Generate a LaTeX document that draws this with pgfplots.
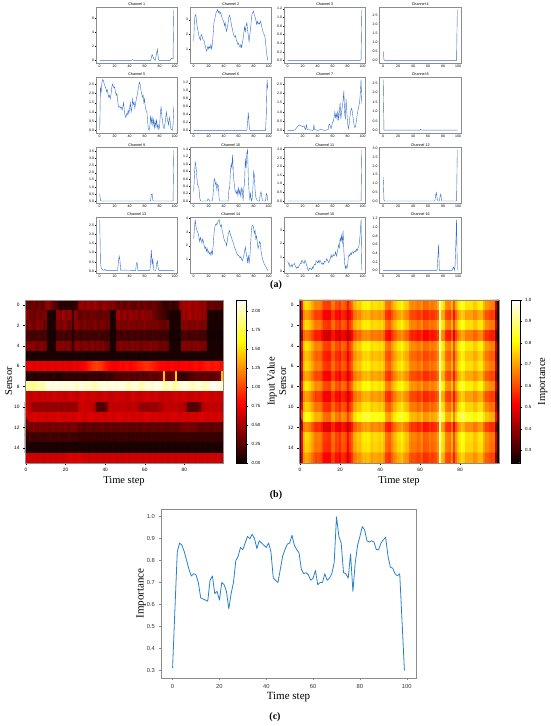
\documentclass[border=0pt]{standalone}
\usepackage{fontspec}
\setmainfont{Liberation Serif}
\setsansfont{Liberation Sans}
\usepackage{pgfplots}
\usepackage{pgfplotstable}
\pgfplotsset{compat=1.18}
\definecolor{chblue}{RGB}{50,110,205}
\definecolor{cblue}{RGB}{40,128,205}
\definecolor{frame}{RGB}{140,140,140}

% Input values (x100), 16 sensors x 100 time steps, row by row
\pgfplotstableread[row sep=\\]{v\\
30\\32\\25\\30\\35\\28\\30\\33\\26\\30\\40\\45\\38\\30\\28\\25\\22\\10\\8\\12\\10\\9\\11\\8\\10\\12\\15\\40\\42\\45\\38\\44\\46\\40\\42\\48\\44\\40\\38\\42\\45\\40\\38\\36\\40\\32\\30\\28\\34\\30\\28\\32\\35\\30\\28\\26\\30\\32\\28\\30\\33\\30\\28\\26\\30\\32\\28\\25\\22\\20\\15\\12\\14\\18\\15\\12\\16\\18\\42\\46\\50\\45\\48\\52\\44\\46\\50\\48\\45\\42\\46\\40\\30\\28\\32\\30\\26\\28\\30\\25\\
45\\40\\30\\35\\28\\32\\38\\30\\34\\36\\36\\5\\4\\6\\5\\4\\40\\45\\35\\50\\42\\38\\46\\40\\10\\42\\36\\30\\28\\32\\34\\30\\28\\35\\30\\32\\28\\30\\26\\32\\30\\28\\30\\5\\4\\6\\45\\50\\38\\42\\48\\35\\40\\46\\38\\42\\44\\36\\40\\45\\38\\42\\36\\40\\35\\30\\28\\25\\22\\20\\18\\15\\12\\5\\4\\6\\5\\4\\5\\45\\50\\40\\48\\52\\42\\46\\50\\44\\48\\40\\46\\42\\5\\4\\6\\5\\4\\5\\6\\5\\
38\\32\\40\\35\\30\\36\\42\\34\\38\\30\\32\\5\\4\\6\\5\\6\\35\\40\\32\\38\\42\\36\\30\\34\\10\\38\\40\\36\\32\\34\\38\\30\\36\\32\\35\\38\\34\\30\\36\\32\\34\\30\\32\\5\\4\\6\\36\\40\\34\\38\\32\\36\\40\\34\\38\\36\\32\\38\\34\\36\\40\\32\\36\\34\\38\\32\\36\\34\\30\\32\\28\\30\\34\\5\\4\\5\\6\\4\\5\\40\\36\\42\\38\\34\\40\\36\\38\\42\\36\\34\\38\\36\\5\\4\\6\\5\\4\\5\\6\\5\\
20\\18\\22\\16\\20\\18\\22\\20\\16\\18\\20\\4\\3\\5\\4\\3\\18\\20\\16\\22\\18\\15\\20\\18\\8\\16\\20\\18\\15\\18\\20\\16\\18\\20\\15\\18\\16\\20\\18\\15\\18\\16\\15\\3\\4\\3\\18\\20\\16\\18\\22\\18\\16\\20\\18\\15\\18\\20\\16\\18\\20\\16\\18\\15\\20\\18\\16\\18\\15\\18\\16\\14\\15\\4\\3\\4\\3\\4\\3\\20\\18\\22\\18\\16\\20\\18\\22\\18\\16\\20\\18\\16\\4\\3\\4\\3\\4\\3\\4\\3\\
36\\40\\34\\38\\42\\36\\32\\38\\40\\34\\36\\5\\4\\6\\5\\6\\38\\42\\36\\40\\34\\38\\40\\32\\12\\36\\40\\38\\34\\36\\40\\38\\34\\36\\40\\32\\38\\36\\34\\38\\32\\30\\28\\4\\5\\4\\34\\38\\40\\36\\32\\38\\34\\36\\40\\34\\38\\36\\32\\36\\38\\34\\36\\40\\32\\36\\38\\34\\32\\30\\34\\32\\30\\5\\4\\5\\4\\5\\4\\38\\42\\36\\40\\38\\34\\40\\36\\42\\38\\34\\36\\34\\5\\4\\5\\4\\5\\4\\5\\4\\
5\\4\\6\\5\\4\\5\\6\\4\\5\\5\\5\\4\\6\\5\\4\\5\\6\\4\\5\\5\\5\\4\\6\\5\\4\\5\\6\\4\\5\\5\\5\\4\\6\\5\\4\\5\\6\\4\\5\\5\\5\\4\\6\\5\\4\\5\\6\\4\\5\\5\\5\\4\\6\\5\\4\\5\\6\\4\\5\\5\\5\\4\\6\\5\\4\\5\\6\\4\\5\\5\\5\\4\\6\\5\\4\\5\\6\\4\\5\\5\\5\\4\\6\\5\\4\\5\\6\\4\\5\\5\\5\\4\\6\\5\\4\\5\\6\\4\\5\\5\\
70\\68\\72\\70\\68\\70\\72\\68\\70\\72\\70\\68\\70\\72\\70\\68\\70\\72\\70\\68\\72\\70\\68\\70\\72\\74\\70\\72\\74\\76\\78\\82\\86\\90\\94\\96\\98\\96\\94\\90\\86\\82\\80\\78\\76\\74\\76\\78\\80\\78\\80\\82\\80\\78\\80\\82\\84\\86\\88\\90\\92\\94\\92\\90\\88\\86\\84\\82\\80\\78\\80\\78\\76\\78\\80\\78\\76\\74\\76\\78\\78\\80\\78\\76\\78\\80\\82\\80\\78\\80\\82\\84\\86\\84\\82\\84\\86\\84\\82\\80\\
10\\8\\12\\10\\8\\6\\10\\12\\8\\10\\12\\10\\8\\10\\12\\10\\8\\6\\8\\10\\12\\14\\12\\10\\12\\14\\10\\12\\14\\12\\10\\12\\14\\16\\12\\14\\16\\12\\10\\14\\16\\18\\14\\16\\18\\20\\22\\24\\20\\26\\22\\24\\28\\22\\24\\26\\20\\24\\28\\22\\26\\24\\28\\30\\26\\28\\24\\26\\30\\34\\140\\34\\30\\28\\32\\36\\145\\20\\15\\12\\14\\16\\18\\20\\22\\24\\26\\28\\24\\26\\28\\30\\26\\28\\24\\26\\30\\32\\34\\140\\
190\\192\\195\\190\\188\\192\\195\\198\\196\\194\\205\\208\\210\\206\\204\\208\\210\\207\\205\\208\\206\\204\\208\\210\\206\\204\\200\\205\\208\\206\\204\\200\\205\\202\\198\\196\\200\\204\\206\\208\\210\\206\\204\\208\\210\\206\\204\\208\\210\\206\\204\\200\\198\\202\\206\\208\\204\\200\\196\\198\\202\\206\\208\\204\\200\\206\\208\\210\\206\\204\\200\\196\\198\\204\\200\\192\\196\\200\\204\\206\\208\\210\\206\\202\\198\\200\\204\\208\\206\\202\\196\\200\\204\\208\\210\\214\\210\\208\\206\\204\\
60\\62\\58\\60\\62\\64\\60\\58\\62\\60\\61\\63\\59\\60\\62\\64\\61\\59\\62\\60\\58\\60\\62\\64\\62\\60\\58\\62\\64\\66\\64\\62\\60\\62\\64\\62\\60\\58\\60\\62\\64\\62\\60\\58\\60\\62\\64\\62\\60\\62\\60\\58\\60\\62\\64\\62\\60\\58\\60\\62\\64\\66\\64\\62\\60\\62\\64\\62\\60\\58\\60\\62\\60\\58\\60\\62\\64\\62\\60\\62\\64\\62\\60\\58\\60\\62\\64\\62\\60\\62\\64\\66\\64\\62\\60\\62\\64\\62\\60\\62\\
62\\60\\58\\44\\46\\42\\45\\44\\43\\46\\44\\42\\45\\44\\46\\43\\44\\45\\42\\44\\46\\44\\43\\45\\44\\46\\44\\60\\62\\64\\60\\58\\62\\60\\56\\50\\25\\22\\24\\20\\26\\35\\55\\58\\56\\60\\58\\55\\57\\60\\58\\56\\55\\58\\60\\56\\54\\52\\45\\44\\46\\42\\44\\46\\48\\44\\45\\46\\50\\52\\55\\58\\60\\58\\56\\60\\58\\56\\54\\56\\52\\48\\25\\22\\20\\24\\22\\26\\30\\50\\55\\58\\56\\60\\58\\56\\58\\60\\58\\56\\
64\\66\\62\\64\\66\\68\\64\\62\\66\\64\\62\\64\\66\\64\\62\\64\\66\\68\\66\\64\\62\\64\\66\\64\\62\\64\\66\\68\\66\\64\\62\\64\\66\\68\\66\\64\\62\\64\\66\\64\\62\\64\\66\\64\\62\\64\\66\\68\\66\\64\\62\\64\\66\\64\\62\\64\\66\\64\\62\\64\\66\\68\\66\\64\\62\\64\\66\\64\\62\\64\\66\\64\\62\\64\\66\\68\\66\\64\\62\\64\\66\\64\\62\\64\\66\\64\\62\\64\\66\\68\\66\\64\\62\\64\\66\\64\\62\\64\\66\\64\\
34\\36\\32\\35\\38\\34\\32\\36\\34\\33\\36\\34\\32\\35\\37\\34\\32\\36\\35\\33\\36\\34\\32\\35\\34\\36\\33\\26\\28\\25\\27\\29\\26\\28\\25\\27\\29\\26\\28\\30\\27\\25\\28\\30\\26\\28\\25\\27\\29\\26\\28\\30\\27\\25\\28\\26\\29\\27\\25\\28\\30\\27\\25\\28\\26\\29\\27\\25\\28\\30\\27\\25\\28\\26\\29\\27\\25\\28\\30\\32\\34\\32\\35\\33\\31\\34\\32\\30\\27\\25\\28\\26\\29\\27\\25\\28\\26\\29\\27\\25\\
18\\16\\20\\17\\15\\18\\16\\19\\17\\15\\18\\16\\20\\17\\15\\18\\16\\19\\17\\15\\18\\16\\20\\17\\15\\18\\16\\14\\15\\13\\14\\16\\13\\15\\14\\16\\13\\15\\14\\16\\13\\15\\14\\16\\13\\15\\14\\16\\13\\15\\14\\16\\13\\15\\14\\16\\13\\15\\14\\16\\13\\15\\14\\16\\13\\15\\14\\16\\13\\15\\14\\16\\13\\15\\14\\16\\13\\15\\14\\16\\13\\15\\14\\16\\13\\15\\14\\16\\13\\15\\14\\16\\13\\15\\14\\16\\13\\15\\14\\16\\
5\\6\\4\\5\\6\\5\\4\\6\\5\\5\\5\\6\\4\\5\\6\\5\\4\\6\\5\\5\\5\\6\\4\\5\\6\\5\\4\\6\\5\\5\\5\\6\\4\\5\\6\\5\\4\\6\\5\\5\\5\\6\\4\\5\\6\\5\\4\\6\\5\\5\\5\\6\\4\\5\\6\\5\\4\\6\\5\\5\\5\\6\\4\\5\\6\\5\\4\\6\\5\\5\\5\\6\\4\\5\\6\\5\\4\\6\\5\\5\\5\\6\\4\\5\\6\\5\\4\\6\\5\\5\\5\\6\\4\\5\\6\\5\\4\\6\\5\\5\\
62\\64\\60\\62\\64\\62\\60\\64\\62\\60\\62\\64\\60\\62\\64\\62\\60\\64\\62\\60\\62\\64\\66\\68\\66\\64\\66\\68\\66\\64\\62\\64\\60\\62\\64\\62\\60\\64\\62\\60\\62\\64\\60\\62\\64\\62\\60\\64\\62\\60\\62\\64\\60\\62\\64\\62\\60\\64\\62\\60\\62\\64\\60\\62\\64\\62\\60\\64\\62\\60\\62\\64\\60\\62\\64\\62\\60\\64\\62\\60\\62\\64\\60\\62\\64\\62\\60\\64\\62\\60\\62\\64\\60\\62\\64\\62\\60\\64\\62\\60\\
}\heatA

% Importance (x100), 16 sensors x 100 time steps, row by row
\pgfplotstableread[row sep=\\]{v\\
27\\54\\75\\78\\77\\75\\72\\69\\66\\67\\67\\64\\59\\59\\58\\58\\65\\66\\60\\61\\58\\64\\63\\61\\54\\60\\64\\72\\73\\76\\75\\78\\80\\79\\81\\79\\76\\78\\78\\77\\76\\78\\75\\66\\65\\64\\69\\73\\75\\78\\78\\81\\77\\75\\75\\69\\67\\68\\67\\65\\66\\69\\63\\64\\64\\67\\65\\66\\67\\71\\96\\80\\78\\68\\67\\66\\74\\61\\71\\77\\80\\84\\82\\78\\78\\78\\78\\75\\75\\78\\79\\80\\73\\69\\69\\67\\66\\67\\48\\26\\
24\\46\\67\\70\\69\\67\\64\\61\\58\\59\\59\\56\\51\\51\\50\\50\\57\\58\\52\\53\\50\\56\\55\\53\\46\\52\\56\\64\\65\\68\\67\\70\\72\\71\\73\\71\\68\\70\\70\\69\\68\\70\\67\\58\\57\\56\\61\\65\\67\\70\\70\\73\\69\\67\\67\\61\\59\\60\\59\\57\\58\\61\\55\\56\\56\\59\\57\\58\\59\\63\\93\\72\\70\\60\\59\\58\\66\\53\\63\\69\\72\\76\\74\\70\\70\\70\\70\\67\\67\\70\\71\\72\\65\\61\\61\\59\\58\\59\\40\\24\\
26\\53\\74\\77\\76\\74\\71\\68\\65\\66\\66\\63\\58\\58\\57\\57\\64\\65\\59\\60\\57\\63\\62\\60\\53\\59\\63\\71\\72\\75\\74\\77\\79\\78\\80\\78\\75\\77\\77\\76\\75\\77\\74\\65\\64\\63\\68\\72\\74\\77\\77\\80\\76\\74\\74\\68\\66\\67\\66\\64\\65\\68\\62\\63\\63\\66\\64\\65\\66\\70\\96\\79\\77\\67\\66\\65\\73\\60\\70\\76\\79\\83\\81\\77\\77\\77\\77\\74\\74\\77\\78\\79\\72\\68\\68\\66\\65\\66\\47\\25\\
24\\42\\63\\66\\65\\63\\60\\57\\54\\55\\55\\52\\47\\47\\46\\46\\53\\54\\48\\49\\46\\52\\51\\49\\42\\48\\52\\60\\61\\64\\63\\66\\68\\67\\69\\67\\64\\66\\66\\65\\64\\66\\63\\54\\53\\52\\57\\61\\63\\66\\66\\69\\65\\63\\63\\57\\55\\56\\55\\53\\54\\57\\51\\52\\52\\55\\53\\54\\55\\59\\92\\68\\66\\56\\55\\54\\62\\49\\59\\65\\68\\72\\70\\66\\66\\66\\66\\63\\63\\66\\67\\68\\61\\57\\57\\55\\54\\55\\36\\24\\
27\\54\\75\\78\\77\\75\\72\\69\\66\\67\\67\\64\\59\\59\\58\\58\\65\\66\\60\\61\\58\\64\\63\\61\\54\\60\\64\\72\\73\\76\\75\\78\\80\\79\\81\\79\\76\\78\\78\\77\\76\\78\\75\\66\\65\\64\\69\\73\\75\\78\\78\\81\\77\\75\\75\\69\\67\\68\\67\\65\\66\\69\\63\\64\\64\\67\\65\\66\\67\\71\\96\\80\\78\\68\\67\\66\\74\\61\\71\\77\\80\\84\\82\\78\\78\\78\\78\\75\\75\\78\\79\\80\\73\\69\\69\\67\\66\\67\\48\\26\\
24\\50\\71\\74\\73\\71\\68\\65\\62\\63\\63\\60\\55\\55\\54\\54\\61\\62\\56\\57\\54\\60\\59\\57\\50\\56\\60\\68\\69\\72\\71\\74\\76\\75\\77\\75\\72\\74\\74\\73\\72\\74\\71\\62\\61\\60\\65\\69\\71\\74\\74\\77\\73\\71\\71\\65\\63\\64\\63\\61\\62\\65\\59\\60\\60\\63\\61\\62\\63\\67\\94\\76\\74\\64\\63\\62\\70\\57\\67\\73\\76\\80\\78\\74\\74\\74\\74\\71\\71\\74\\75\\76\\69\\65\\65\\63\\62\\63\\44\\24\\
26\\53\\74\\77\\76\\74\\71\\68\\65\\66\\66\\63\\58\\58\\57\\57\\64\\65\\59\\60\\57\\63\\62\\60\\53\\59\\63\\71\\72\\75\\74\\77\\79\\78\\80\\78\\75\\77\\77\\76\\75\\77\\74\\65\\64\\63\\68\\72\\74\\77\\77\\80\\76\\74\\74\\68\\66\\67\\66\\64\\65\\68\\62\\63\\63\\66\\64\\65\\66\\70\\96\\79\\77\\67\\66\\65\\73\\60\\70\\76\\79\\83\\81\\77\\77\\77\\77\\74\\74\\77\\78\\79\\72\\68\\68\\66\\65\\66\\47\\25\\
24\\47\\68\\71\\70\\68\\65\\62\\59\\60\\60\\57\\52\\52\\51\\51\\58\\59\\53\\54\\51\\57\\56\\54\\47\\53\\57\\65\\66\\69\\68\\71\\73\\72\\74\\72\\69\\71\\71\\70\\69\\71\\68\\59\\58\\57\\62\\66\\68\\71\\71\\74\\70\\68\\68\\62\\60\\61\\60\\58\\59\\62\\56\\57\\57\\60\\58\\59\\60\\64\\93\\73\\71\\61\\60\\59\\67\\54\\64\\70\\73\\77\\75\\71\\71\\71\\71\\68\\68\\71\\72\\73\\66\\62\\62\\60\\59\\60\\41\\24\\
28\\55\\76\\79\\78\\76\\73\\70\\67\\68\\68\\65\\60\\60\\59\\59\\66\\67\\61\\62\\59\\65\\64\\62\\55\\61\\65\\73\\74\\77\\76\\79\\81\\80\\82\\80\\77\\79\\79\\78\\77\\79\\76\\67\\66\\65\\70\\74\\76\\79\\79\\82\\78\\76\\76\\70\\68\\69\\68\\66\\67\\70\\64\\65\\65\\68\\66\\67\\68\\72\\97\\81\\79\\69\\68\\67\\75\\62\\72\\78\\81\\85\\83\\79\\79\\79\\79\\76\\76\\79\\80\\81\\74\\70\\70\\68\\67\\68\\49\\27\\
24\\46\\67\\70\\69\\67\\64\\61\\58\\59\\59\\56\\51\\51\\50\\50\\57\\58\\52\\53\\50\\56\\55\\53\\46\\52\\56\\64\\65\\68\\67\\70\\72\\71\\73\\71\\68\\70\\70\\69\\68\\70\\67\\58\\57\\56\\61\\65\\67\\70\\70\\73\\69\\67\\67\\61\\59\\60\\59\\57\\58\\61\\55\\56\\56\\59\\57\\58\\59\\63\\93\\72\\70\\60\\59\\58\\66\\53\\63\\69\\72\\76\\74\\70\\70\\70\\70\\67\\67\\70\\71\\72\\65\\61\\61\\59\\58\\59\\40\\24\\
25\\52\\73\\76\\75\\73\\70\\67\\64\\65\\65\\62\\57\\57\\56\\56\\63\\64\\58\\59\\56\\62\\61\\59\\52\\58\\62\\70\\71\\74\\73\\76\\78\\77\\79\\77\\74\\76\\76\\75\\74\\76\\73\\64\\63\\62\\67\\71\\73\\76\\76\\79\\75\\73\\73\\67\\65\\66\\65\\63\\64\\67\\61\\62\\62\\65\\63\\64\\65\\69\\95\\78\\76\\66\\65\\64\\72\\59\\69\\75\\78\\82\\80\\76\\76\\76\\76\\73\\73\\76\\77\\78\\71\\67\\67\\65\\64\\65\\46\\24\\
32\\59\\80\\83\\82\\80\\77\\74\\71\\72\\72\\69\\64\\64\\63\\63\\70\\71\\65\\66\\63\\69\\68\\66\\59\\65\\69\\77\\78\\81\\80\\83\\85\\84\\86\\84\\81\\83\\83\\82\\81\\83\\80\\71\\70\\69\\74\\78\\80\\83\\83\\86\\82\\80\\80\\74\\72\\73\\72\\70\\71\\74\\68\\69\\69\\72\\70\\71\\72\\76\\99\\85\\83\\73\\72\\71\\79\\66\\76\\82\\85\\89\\87\\83\\83\\83\\83\\80\\80\\83\\84\\85\\78\\74\\74\\72\\71\\72\\53\\31\\
24\\44\\65\\68\\67\\65\\62\\59\\56\\57\\57\\54\\49\\49\\48\\48\\55\\56\\50\\51\\48\\54\\53\\51\\44\\50\\54\\62\\63\\66\\65\\68\\70\\69\\71\\69\\66\\68\\68\\67\\66\\68\\65\\56\\55\\54\\59\\63\\65\\68\\68\\71\\67\\65\\65\\59\\57\\58\\57\\55\\56\\59\\53\\54\\54\\57\\55\\56\\57\\61\\92\\70\\68\\58\\57\\56\\64\\51\\61\\67\\70\\74\\72\\68\\68\\68\\68\\65\\65\\68\\69\\70\\63\\59\\59\\57\\56\\57\\38\\24\\
26\\53\\74\\77\\76\\74\\71\\68\\65\\66\\66\\63\\58\\58\\57\\57\\64\\65\\59\\60\\57\\63\\62\\60\\53\\59\\63\\71\\72\\75\\74\\77\\79\\78\\80\\78\\75\\77\\77\\76\\75\\77\\74\\65\\64\\63\\68\\72\\74\\77\\77\\80\\76\\74\\74\\68\\66\\67\\66\\64\\65\\68\\62\\63\\63\\66\\64\\65\\66\\70\\96\\79\\77\\67\\66\\65\\73\\60\\70\\76\\79\\83\\81\\77\\77\\77\\77\\74\\74\\77\\78\\79\\72\\68\\68\\66\\65\\66\\47\\25\\
25\\52\\73\\76\\75\\73\\70\\67\\64\\65\\65\\62\\57\\57\\56\\56\\63\\64\\58\\59\\56\\62\\61\\59\\52\\58\\62\\70\\71\\74\\73\\76\\78\\77\\79\\77\\74\\76\\76\\75\\74\\76\\73\\64\\63\\62\\67\\71\\73\\76\\76\\79\\75\\73\\73\\67\\65\\66\\65\\63\\64\\67\\61\\62\\62\\65\\63\\64\\65\\69\\95\\78\\76\\66\\65\\64\\72\\59\\69\\75\\78\\82\\80\\76\\76\\76\\76\\73\\73\\76\\77\\78\\71\\67\\67\\65\\64\\65\\46\\24\\
24\\47\\68\\71\\70\\68\\65\\62\\59\\60\\60\\57\\52\\52\\51\\51\\58\\59\\53\\54\\51\\57\\56\\54\\47\\53\\57\\65\\66\\69\\68\\71\\73\\72\\74\\72\\69\\71\\71\\70\\69\\71\\68\\59\\58\\57\\62\\66\\68\\71\\71\\74\\70\\68\\68\\62\\60\\61\\60\\58\\59\\62\\56\\57\\57\\60\\58\\59\\60\\64\\93\\73\\71\\61\\60\\59\\67\\54\\64\\70\\73\\77\\75\\71\\71\\71\\71\\68\\68\\71\\72\\73\\66\\62\\62\\60\\59\\60\\41\\24\\
}\heatB

\pgfplotsset{
  /pgf/number format/assume math mode=true,
  colormap={mplhot}{rgb(0pt)=(0.0416,0,0); rgb(365pt)=(1,0,0); rgb(746pt)=(1,1,0); rgb(1000pt)=(1,1,1)},
  ch/.style={scale only axis, width=81.5pt, height=56pt, anchor=north west,
    xmin=-4.95, xmax=103.95, xtick={0,20,40,60,80,100},
    tick pos=left, tick align=outside, major tick length=1pt,
    tick style={black, line width=0.25pt},
    tick label style={font=\sffamily\fontsize{3.5}{4}\selectfont, inner sep=0.8pt},
    every axis title/.style={at={(0.5,1)}, anchor=south, inner sep=1pt, font=\sffamily\fontsize{3.7}{4}\selectfont},
    axis line style={draw=frame, line width=0.8pt},
    scaled y ticks=false,
    cycle list={{chblue, mark=none, line width=0.75pt, line join=round}},
  },
  dec/.style={yticklabel style={/pgf/number format/.cd, fixed, fixed zerofill, precision=1}},
  hm/.style={scale only axis, height=163pt, anchor=south west, y dir=reverse, enlargelimits=false,
    xmin=-0.5, xmax=99.5, ymin=-0.5, ymax=15.5, xtick={0,20,40,60,80}, ytick={0,2,4,6,8,10,12,14},
    tick pos=left, tick align=outside, major tick length=2pt, tick style={black, line width=0.3pt},
    tick label style={font=\sffamily\fontsize{4.8}{5.5}\selectfont},
    axis line style={draw=frame, line width=0.4pt}, axis on top, colormap name=mplhot,
    xlabel={Time step}, ylabel={Sensor}, ylabel shift=-5pt, xlabel shift=-2pt,
    label style={font=\fontsize{10.5}{12}\selectfont},
    colorbar,
  },
}

\begin{document}
\begin{tikzpicture}
\path[use as bounding box] (0,0) rectangle (550pt,726pt);

% ---------------- (a) ----------------
\begin{axis}[ch, at={(96pt,719pt)}, title={Channel 1}, ymin=-0.36, ymax=7.56, ytick={0,2,4,6}]
\addplot coordinates {(0,0)(42,0)(43,0.05)(44,0.12)(45,0.05)(46,0)(68,0)(69,0.4)(70,0.85)(71,0.6)(72,0.3)(73,0.1)(74,0)(75,0.4)(76,1.0)(77,1.6)(78,0.6)(79,0)(94,0)(95,0.15)(96,0.3)(97,0.25)(98,0.2)(99,7.2)};
\end{axis}
\begin{axis}[ch, at={(190pt,719pt)}, title={Channel 2}, ymin=0.03, ymax=3.88, ytick={1,2,3}]
\addplot coordinates {(0,1.55)(1,3.0)(2,3.35)(3,3.3)(4,2.8)(5,2.4)(6,2.2)(7,1.9)(8,1.7)(9,1.6)(10,2.0)(11,1.9)(12,1.7)(13,1.6)(14,1.55)(15,1.3)(16,1.1)(17,0.85)(18,0.95)(19,1.2)(20,1.0)(21,1.15)(22,1.05)(23,1.3)(24,1.0)(25,1.4)(26,2.0)(27,2.8)(28,3.0)(29,3.3)(30,3.5)(31,3.6)(32,3.7)(33,3.5)(34,3.6)(35,3.4)(36,3.5)(37,3.3)(38,3.1)(39,3.0)(40,2.9)(41,2.6)(42,2.8)(43,2.4)(44,2.2)(45,2.5)(46,2.8)(47,3.2)(48,3.3)(49,3.1)(50,2.8)(51,2.5)(52,2.3)(53,2.0)(54,1.9)(55,1.8)(56,1.9)(57,1.6)(58,1.5)(59,1.3)(60,1.4)(61,1.2)(62,1.1)(63,1.3)(64,1.1)(65,1.4)(66,1.7)(67,2.1)(68,2.5)(69,2.2)(70,2.6)(71,2.8)(72,2.3)(73,1.9)(74,1.5)(75,2.0)(76,2.4)(77,3.0)(78,3.4)(79,3.5)(80,3.6)(81,3.3)(82,3.2)(83,3.0)(84,2.7)(85,2.9)(86,2.7)(87,2.8)(88,2.7)(89,2.9)(90,2.8)(91,2.5)(92,2.3)(93,2.1)(94,2.0)(95,1.9)(96,1.5)(97,0.9)(98,0.5)(99,0.2)};
\end{axis}
\begin{axis}[ch, dec, at={(284pt,719pt)}, title={Channel 3}, ymin=-0.059, ymax=1.239, ytick={0,0.2,0.4,0.6,0.8,1.0,1.2}]
\addplot coordinates {(0,0)(97,0)(98,0.02)(99,1.18)};
\end{axis}
\begin{axis}[ch, dec, at={(379.5pt,719pt)}, title={Channel 4}, ymin=-0.14, ymax=2.94, ytick={0,0.5,1,1.5,2,2.5}]
\addplot coordinates {(0,0.5)(1,0.05)(2,0)(98,0)(99,2.8)};
\end{axis}

\begin{axis}[ch, dec, at={(96pt,649pt)}, title={Channel 5}, ymin=-0.1375, ymax=2.8875, ytick={0,0.5,1,1.5,2,2.5}]
\addplot coordinates {(0,0.0)(1,2.3)(2,2.1)(3,2.6)(4,2.75)(5,2.7)(6,2.5)(7,2.4)(8,2.3)(9,2.1)(10,2.2)(11,2.0)(12,1.8)(13,1.9)(14,1.7)(15,1.9)(16,2.3)(17,2.5)(18,2.4)(19,2.3)(20,2.35)(21,2.1)(22,1.9)(23,2.0)(24,1.6)(25,1.3)(26,1.25)(27,1.3)(28,1.2)(29,1.25)(30,1.1)(31,1.3)(32,1.5)(33,1.0)(34,0.8)(35,0.7)(36,0.9)(37,0.85)(38,1.1)(39,0.9)(40,1.2)(41,1.5)(42,1.0)(43,1.2)(44,1.7)(45,1.4)(46,1.5)(47,1.2)(48,1.5)(49,1.7)(50,1.9)(51,2.1)(52,2.4)(53,2.6)(54,2.5)(55,2.2)(56,2.0)(57,1.8)(58,1.9)(59,1.5)(60,1.7)(61,1.2)(62,1.1)(63,1.0)(64,0.5)(65,0.1)(66,0.0)(67,0.2)(68,0.8)(69,0.4)(70,0.7)(71,0.3)(72,0.6)(73,0.1)(74,0.5)(75,0.2)(76,0.6)(77,0.15)(78,0.3)(79,0.05)(80,0.2)(81,0.9)(82,1.3)(83,0.8)(84,0.5)(85,0.2)(86,0.1)(87,0.3)(88,0.6)(89,1.0)(90,0.7)(91,0.5)(92,0.3)(93,0.7)(94,0.5)(95,0.1)(96,0.05)(97,0.0)(98,0.3)(99,1.3)};
\end{axis}
\begin{axis}[ch, dec, at={(190pt,649pt)}, title={Channel 6}, ymin=-0.064, ymax=1.344, ytick={0,0.2,0.4,0.6,0.8,1.0,1.2}]
\addplot coordinates {(0,0)(71,0)(72,0.2)(73,0.45)(74,0.15)(75,0)(96,0)(97,0.4)(98,1.28)(99,1.05)};
\end{axis}
\begin{axis}[ch, dec, at={(284pt,649pt)}, title={Channel 7}, ymin=-0.1375, ymax=2.8875, ytick={0,0.5,1,1.5,2,2.5}]
\addplot coordinates {(0,0)(8,0)(10,0.05)(12,0.15)(14,0.25)(16,0.3)(18,0.25)(20,0.2)(22,0.25)(23,0.1)(24,0.05)(25,0.3)(26,0.05)(34,0.0)(35,0.3)(36,0.05)(40,0.0)(44,0.05)(50,0.0)(54,0.05)(55,0.3)(56,0.35)(57,0.2)(58,0.1)(59,0.3)(60,0.45)(61,0.5)(62,0.7)(63,1.0)(64,0.7)(65,0.9)(66,0.6)(67,1.1)(68,0.55)(69,1.0)(70,1.5)(71,0.6)(72,1.0)(73,1.3)(74,1.6)(75,2.15)(76,1.0)(77,0.6)(78,1.7)(79,1.0)(80,0.4)(81,0.1)(82,0.3)(83,0.7)(84,1.0)(85,1.2)(86,1.1)(87,0.8)(88,0.5)(89,0.2)(90,0.15)(91,0.3)(92,0.6)(93,0.9)(94,1.1)(95,1.3)(96,1.5)(97,2.0)(98,2.75)(99,1.45)};
\end{axis}
\begin{axis}[ch, dec, at={(379.5pt,649pt)}, title={Channel 8}, ymin=-0.135, ymax=2.835, ytick={0,0.5,1,1.5,2,2.5}]
\addplot coordinates {(0,2.7)(1,0.02)(49,0.02)(50,0.06)(51,0.02)(99,0.02)};
\end{axis}

\begin{axis}[ch, dec, at={(96pt,578.5pt)}, title={Channel 9}, ymin=-0.18, ymax=3.78, ytick={0,0.5,1,1.5,2,2.5,3,3.5}]
\addplot coordinates {(0,0.5)(1,0.05)(2,0)(68,0)(69,0.45)(70,0.5)(71,0.05)(72,0)(98,0)(99,3.6)};
\end{axis}
\begin{axis}[ch, dec, at={(190pt,578.5pt)}, title={Channel 10}, ymin=-0.069, ymax=1.449, ytick={0,0.2,0.4,0.6,0.8,1.0,1.2,1.4}]
\addplot coordinates {(0,0.25)(1,0.7)(2,1.05)(3,0.95)(4,0.7)(5,0.45)(6,0.4)(7,0.35)(8,0.1)(9,0.0)(18,0.0)(19,0.05)(20,0.05)(21,0.0)(25,0.0)(26,0.2)(27,0.55)(28,0.6)(29,0.45)(30,0.5)(31,0.3)(32,0.45)(33,0.4)(34,0.05)(35,0.0)(46,0.0)(47,0.3)(48,0.35)(49,0.8)(50,1.0)(51,0.9)(52,1.25)(53,0.7)(54,0.5)(55,0.3)(56,0.25)(57,0.2)(58,0.3)(59,0.15)(60,0.35)(61,0.2)(62,0.3)(63,0.1)(64,0.35)(65,0.3)(66,0.0)(67,0.35)(68,0.5)(69,1.15)(70,0.9)(71,1.3)(72,1.38)(73,0.6)(74,0.25)(75,0.05)(76,0.2)(77,0.0)(78,0.05)(79,0.3)(80,0.8)(81,0.7)(82,0.3)(83,0.1)(84,0.05)(85,0.0)(88,0.0)(89,0.2)(90,0.25)(91,0.1)(92,0.0)(96,0.0)(97,0.2)(98,0.15)(99,0.0)};
\end{axis}
\begin{axis}[ch, dec, at={(284pt,578.5pt)}, title={Channel 11}, ymin=-0.1475, ymax=3.0975, ytick={0,0.5,1,1.5,2,2.5,3}]
\addplot coordinates {(0,0)(98,0)(99,2.95)};
\end{axis}
\begin{axis}[ch, dec, at={(379.5pt,578.5pt)}, title={Channel 12}, ymin=-0.145, ymax=3.045, ytick={0,0.5,1,1.5,2,2.5,3}]
\addplot coordinates {(0,1.35)(1,0.05)(2,0)(69,0)(70,0.3)(71,0.48)(72,0.15)(73,0)(75,0)(76,0.25)(77,0.4)(78,0)(98,0)(99,2.9)};
\end{axis}

\begin{axis}[ch, dec, at={(96pt,509pt)}, title={Channel 13}, ymin=-0.11, ymax=2.94, ytick={0,0.5,1,1.5,2,2.5}]
\addplot coordinates {(0,2.8)(1,0.5)(2,0.15)(4,0.05)(6,0.05)(7,0.1)(8,0.03)(24,0.03)(25,0.5)(26,0.82)(27,0.6)(28,0.05)(48,0.03)(49,0.4)(50,0.46)(51,0.03)(67,0.03)(68,0.5)(69,1.15)(70,0.3)(71,0.7)(72,0.05)(75,0.03)(76,0.4)(77,0.55)(78,0.2)(79,0.03)(99,0.03)};
\end{axis}
\begin{axis}[ch, at={(190pt,509pt)}, title={Channel 14}, ymin=0.015, ymax=4.085, ytick={1,2,3,4}]
\addplot coordinates {(0,2.5)(1,3.3)(2,3.9)(3,3.4)(4,3.2)(5,3.0)(6,2.9)(7,2.6)(8,2.3)(9,2.6)(10,2.4)(11,2.2)(12,2.5)(13,2.3)(14,2.0)(15,1.8)(16,1.9)(17,1.6)(18,1.8)(19,1.5)(20,1.6)(21,1.4)(22,1.5)(23,1.3)(24,1.6)(25,1.4)(26,2.0)(27,2.8)(28,3.3)(29,3.5)(30,3.6)(31,3.5)(32,3.7)(33,3.8)(34,3.9)(35,3.6)(36,3.4)(37,3.5)(38,3.1)(39,2.9)(40,2.6)(41,2.4)(42,2.3)(43,2.2)(44,2.0)(45,2.4)(46,2.8)(47,3.0)(48,3.1)(49,2.8)(50,2.7)(51,2.5)(52,2.3)(53,2.2)(54,2.0)(55,1.8)(56,1.7)(57,1.5)(58,1.4)(59,1.3)(60,1.3)(61,1.2)(62,1.1)(63,1.2)(64,1.0)(65,0.9)(66,1.1)(67,1.3)(68,1.6)(69,1.9)(70,1.5)(71,1.2)(72,0.8)(73,1.3)(74,0.7)(75,1.2)(76,2.1)(77,3.0)(78,3.5)(79,3.5)(80,3.3)(81,2.9)(82,3.1)(83,2.5)(84,2.7)(85,2.2)(86,1.8)(87,2.0)(88,2.3)(89,2.2)(90,1.6)(91,1.3)(92,1.0)(93,0.9)(94,0.7)(95,0.6)(96,0.5)(97,0.4)(98,0.3)(99,0.2)};
\end{axis}
\begin{axis}[ch, at={(284pt,509pt)}, title={Channel 15}, ymin=-0.135, ymax=3.935, ytick={0,1,2,3}]
\addplot coordinates {(0,0.75)(1,0.5)(2,0.55)(3,0.3)(4,0.4)(5,0.45)(6,0.3)(7,0.5)(8,0.5)(9,0.55)(10,0.4)(11,0.3)(12,0.2)(13,0.3)(14,0.25)(15,0.35)(16,0.45)(17,0.6)(18,0.55)(19,0.8)(20,0.7)(21,0.6)(22,0.55)(23,0.8)(24,0.7)(25,0.5)(26,0.3)(27,0.1)(28,0.05)(29,0.2)(30,0.2)(31,0.15)(32,0.1)(33,0.3)(34,0.2)(35,0.4)(36,0.5)(37,0.45)(38,0.75)(39,0.7)(40,0.6)(41,0.75)(42,0.6)(43,0.8)(44,0.7)(45,0.55)(46,0.5)(47,0.6)(48,0.5)(49,0.7)(50,0.65)(51,0.7)(52,0.9)(53,0.8)(54,0.7)(55,0.6)(56,0.8)(57,0.9)(58,1.2)(59,1.0)(60,1.1)(61,1.2)(62,1.1)(63,1.2)(64,1.4)(65,1.1)(66,1.3)(67,1.6)(68,1.9)(69,1.7)(70,2.4)(71,2.2)(72,2.6)(73,2.0)(74,2.95)(75,1.5)(76,0.6)(77,0.2)(78,0.4)(79,0.2)(80,0.4)(81,1.0)(82,1.2)(83,1.1)(84,1.3)(85,1.2)(86,1.4)(87,1.4)(88,1.3)(89,1.4)(90,1.5)(91,1.4)(92,1.6)(93,1.5)(94,1.7)(95,1.8)(96,2.2)(97,2.8)(98,3.75)(99,0.05)};
\end{axis}
\begin{axis}[ch, dec, at={(379.5pt,509pt)}, title={Channel 16}, ymin=-0.059, ymax=1.239, ytick={0,0.2,0.4,0.6,0.8,1.0,1.2}]
\addplot coordinates {(0,0)(72,0)(73,0.3)(74,0.6)(75,0)(92,0)(93,0.05)(94,0.08)(95,0)(96,0.1)(97,0.6)(98,1.18)(99,0)};
\end{axis}

\node[font=\bfseries\fontsize{10}{12}\selectfont] at (276pt,441pt) {(a)};

% ---------------- (b) ----------------
\begin{axis}[hm, at={(25pt,263pt)}, width=198pt, point meta min=0, point meta max=214,
  colorbar shift/.style={xshift=13pt},
  colorbar style={width=10pt, y dir=normal, title={}, xlabel={},
    ytick={0,25,50,75,100,125,150,175,200},
    yticklabels={0.00,0.25,0.50,0.75,1.00,1.25,1.50,1.75,2.00},
    ytick pos=right, yticklabel pos=right, tick align=outside, major tick length=2pt,
    tick label style={font=\sffamily\fontsize{4.5}{5}\selectfont},
    axis line style={draw=black, line width=0.3pt},
    ylabel={Input Value}, ylabel shift=0pt, ylabel style={font=\fontsize{10.5}{12}\selectfont}}]
\addplot[matrix plot*, mesh/cols=100, point meta=explicit] table[x index=0, y index=0, x expr={mod(\coordindex,100)}, y expr={floor(\coordindex/100)}, meta=v] {\heatA};
\end{axis}

\begin{axis}[hm, at={(299pt,263pt)}, width=200pt, point meta min=24, point meta max=100,
  colorbar shift/.style={xshift=12pt},
  colorbar style={width=8.5pt, y dir=normal, title={}, xlabel={},
    ytick={30,40,50,60,70,80,90,100},
    yticklabels={0.3,0.4,0.5,0.6,0.7,0.8,0.9,1.0},
    ytick pos=right, yticklabel pos=right, tick align=outside, major tick length=2pt,
    tick label style={font=\sffamily\fontsize{4.5}{5}\selectfont},
    axis line style={draw=black, line width=0.3pt},
    ylabel={Importance}, ylabel shift=0pt, ylabel style={font=\fontsize{10.5}{12}\selectfont}}]
\addplot[matrix plot*, mesh/cols=100, point meta=explicit] table[x index=0, y index=0, x expr={mod(\coordindex,100)}, y expr={floor(\coordindex/100)}, meta=v] {\heatB};
\end{axis}

\node[font=\bfseries\fontsize{10}{12}\selectfont] at (276pt,231pt) {(b)};

% ---------------- (c) ----------------
\begin{axis}[scale only axis, at={(161pt,48pt)}, anchor=south west, width=255pt, height=169pt,
  xmin=-4.95, xmax=103.95, ymin=0.265, ymax=1.035,
  xtick={0,20,40,60,80,100}, ytick={0.3,0.4,0.5,0.6,0.7,0.8,0.9,1.0},
  yticklabel style={/pgf/number format/.cd, fixed, fixed zerofill, precision=1},
  tick pos=left, tick align=outside, major tick length=2.5pt, tick style={frame, line width=0.4pt},
  tick label style={font=\sffamily\fontsize{5.8}{6.5}\selectfont, text=black!80},
  axis line style={draw=frame, line width=0.8pt},
  xlabel={Time step}, ylabel={Importance}, ylabel shift=-6pt, xlabel shift=-3pt,
  label style={font=\fontsize{11}{13}\selectfont}]
\addplot[cblue, line width=0.8pt, line join=round] coordinates {(0,0.31)(1,0.58)(2,0.84)(3,0.88)(4,0.87)(5,0.84)(6,0.80)(7,0.76)(8,0.73)(9,0.74)(10,0.735)(11,0.70)(12,0.63)(13,0.625)(14,0.62)(15,0.615)(16,0.71)(17,0.73)(18,0.65)(19,0.66)(20,0.62)(21,0.70)(22,0.69)(23,0.66)(24,0.58)(25,0.65)(26,0.70)(27,0.80)(28,0.82)(29,0.86)(30,0.85)(31,0.88)(32,0.91)(33,0.90)(34,0.92)(35,0.90)(36,0.855)(37,0.89)(38,0.88)(39,0.87)(40,0.86)(41,0.88)(42,0.84)(43,0.72)(44,0.71)(45,0.70)(46,0.76)(47,0.82)(48,0.85)(49,0.875)(50,0.88)(51,0.915)(52,0.87)(53,0.85)(54,0.835)(55,0.76)(56,0.74)(57,0.745)(58,0.735)(59,0.71)(60,0.72)(61,0.755)(62,0.69)(63,0.70)(64,0.70)(65,0.74)(66,0.71)(67,0.72)(68,0.74)(69,0.79)(70,1.0)(71,0.91)(72,0.88)(73,0.745)(74,0.74)(75,0.72)(76,0.83)(77,0.66)(78,0.79)(79,0.87)(80,0.91)(81,0.955)(82,0.94)(83,0.89)(84,0.885)(85,0.89)(86,0.885)(87,0.85)(88,0.85)(89,0.88)(90,0.895)(91,0.905)(92,0.82)(93,0.77)(94,0.765)(95,0.74)(96,0.73)(97,0.74)(98,0.52)(99,0.30)};
\end{axis}

\node[font=\bfseries\fontsize{10}{12}\selectfont] at (275pt,9pt) {(c)};
\end{tikzpicture}
\end{document}
